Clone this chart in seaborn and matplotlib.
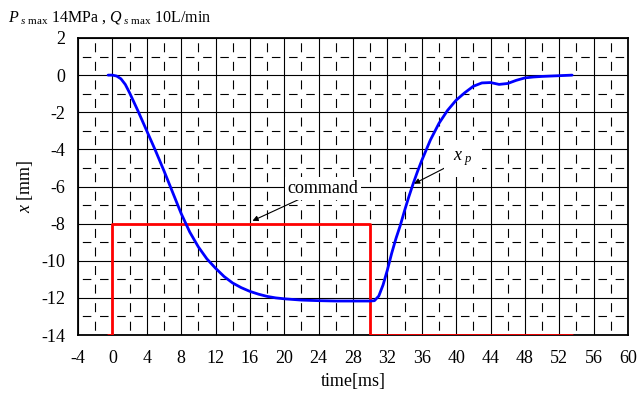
import numpy as np
import pandas as pd
import matplotlib
matplotlib.use("Agg")
import matplotlib.pyplot as plt
from matplotlib.ticker import MultipleLocator
import seaborn as sns

# ---- data ----
xp_time = [-0.5, 0, 0.5, 1, 1.5, 2, 3, 4, 5, 6, 7, 8, 9, 10, 11, 12, 13, 14, 15, 16,
           17, 18, 19, 20, 22, 24, 26, 28, 30, 30.5, 31, 31.5, 32, 32.5, 33, 33.5, 34,
           34.5, 35, 35.5, 36, 37, 38, 39, 40, 41, 42, 43, 44, 45, 46, 47, 48, 49, 50,
           51, 52, 53, 53.5]
xp_value = [0, 0, -0.05, -0.2, -0.5, -0.95, -1.95, -3.0, -4.05, -5.15, -6.3, -7.45, -8.45,
            -9.25, -9.9, -10.4, -10.85, -11.2, -11.45, -11.65, -11.8, -11.92, -12.0, -12.05,
            -12.12, -12.15, -12.17, -12.17, -12.17, -12.15, -11.9, -11.3, -10.5, -9.6, -8.8,
            -8.1, -7.3, -6.55, -5.85, -5.2, -4.6, -3.5, -2.6, -1.9, -1.35, -0.95, -0.6,
            -0.42, -0.4, -0.5, -0.45, -0.28, -0.15, -0.1, -0.07, -0.05, -0.03, -0.01, 0]
cmd_time = [-0.5, 0, 0, 30, 30, 53.5]
cmd_value = [-14, -14, -8, -8, -14, -14]
x_ticks = list(range(-4, 61, 4))
y_ticks = list(range(-14, 3, 2))

df_xp = pd.DataFrame({"time": xp_time, "x": xp_value})
df_cmd = pd.DataFrame({"time": cmd_time, "x": cmd_value})

sns.set_theme(style="white")
plt.rcParams['font.family'] = ['Liberation Serif', 'DejaVu Serif']
plt.rcParams['mathtext.fontset'] = 'custom'
plt.rcParams['mathtext.rm'] = 'Liberation Serif'
plt.rcParams['mathtext.it'] = 'Liberation Serif:italic'
plt.rcParams['lines.scale_dashes'] = False

W, H, DPI = 638, 396, 100
L, R, T, B = 78, 628, 38, 335
fig = plt.figure(figsize=(W / DPI, H / DPI), dpi=DPI)
ax = fig.add_axes([L / W, 1 - B / H, (R - L) / W, (B - T) / H])

ax.set_xlim(-4, 60)
ax.set_ylim(-14, 2)
ax.xaxis.set_major_locator(MultipleLocator(4))
ax.xaxis.set_minor_locator(MultipleLocator(2))
ax.yaxis.set_major_locator(MultipleLocator(2))
ax.yaxis.set_minor_locator(MultipleLocator(1))
ax.grid(which='major', color='black', linewidth=0.8, linestyle='-')

# dashed minor grid: one dash centred in every sub-cell (gaps at crossings)
pt = 72.0 / DPI
cell_y = (B - T) / 16.0   # px per 1 unit of y
cell_x = (R - L) / 64.0 * 2  # px per 2 ms
dash_v = 9.0
dash_h = 8.5
ax.xaxis.grid(True, which='minor', color='black', linewidth=0.8,
              linestyle=(((cell_y - (cell_y - dash_v) / 2)) * pt,
                         (dash_v * pt, (cell_y - dash_v) * pt)))
ax.yaxis.grid(True, which='minor', color='black', linewidth=0.8,
              linestyle=(((cell_x - (cell_x - dash_h) / 2)) * pt,
                         (dash_h * pt, (cell_x - dash_h) * pt)))
ax.set_axisbelow(True)

sns.lineplot(data=df_cmd, x="time", y="x", ax=ax, color="#ff0000", linewidth=2,
             estimator=None, sort=False, zorder=3)
sns.lineplot(data=df_xp, x="time", y="x", ax=ax, color="#0000ff", linewidth=2,
             estimator=None, sort=False, zorder=4)

ax.set_xticks(x_ticks)
ax.set_yticks(y_ticks)
ax.set_xticklabels([str(v) for v in x_ticks])
ax.set_yticklabels([str(v) for v in y_ticks])
ax.tick_params(axis='both', which='both', length=0, labelsize=13, colors='black')
ax.tick_params(axis='x', pad=11)
ax.tick_params(axis='y', pad=9)

for s in ax.spines.values():
    s.set_color('black')
    s.set_linewidth(1.3)
    s.set_visible(True)

ax.set_xlabel("time[ms]", fontsize=13, color='black', labelpad=4)
ax.set_ylabel("$x$ [mm]", fontsize=13, color='black', labelpad=5)

ax.annotate("command", xy=(16.3, -7.85), xytext=(24.5, -6.1), fontsize=13,
            ha='center', va='center', color='black', zorder=6,
            bbox=dict(boxstyle='square,pad=0.15', fc='white', ec='none'),
            arrowprops=dict(arrowstyle='-|>', color='black', lw=0.8,
                            mutation_scale=8, shrinkA=0, shrinkB=0))
ax.annotate("$x_{\\ p}$", xy=(35.1, -5.85), xytext=(40.8, -4.5), fontsize=13,
            ha='center', va='center', color='black', zorder=6,
            bbox=dict(boxstyle='square,pad=0.5', fc='white', ec='none'),
            arrowprops=dict(arrowstyle='-|>', color='black', lw=0.8,
                            mutation_scale=8, shrinkA=0, shrinkB=0))

fig.text(8 / W, 1 - 17 / H,
         "$P_{\\ s\\ \\mathrm{max}}$ 14MPa , $Q_{\\ s\\ \\mathrm{max}}$ 10L/min",
         fontsize=11.5, ha='left', va='center', color='black')

fig.savefig("out.png", dpi=DPI)
